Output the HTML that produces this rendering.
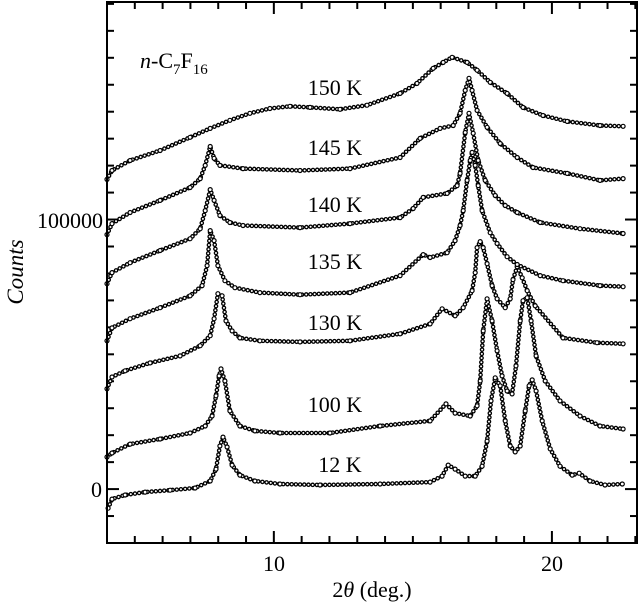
<!DOCTYPE html>
<html><head><meta charset="utf-8">
<style>
html,body{margin:0;padding:0;background:#fff;}
svg{display:block;}
text{font-family:"Liberation Serif",serif;fill:#000;}
</style></head>
<body>
<svg id="chart" width="640" height="604" viewBox="0 0 640 604" xmlns="http://www.w3.org/2000/svg">
<g id="ticks"></g>
<g id="curves"></g>
<rect x="107" y="2" width="530" height="541" fill="none" stroke="#000" stroke-width="2"/>
<text x="274" y="571" font-size="22" text-anchor="middle">10</text>
<text x="552" y="571" font-size="22" text-anchor="middle">20</text>
<text x="372" y="597" font-size="22" text-anchor="middle">2<tspan font-style="italic">θ</tspan> (deg.)</text>
<text x="102" y="497" font-size="22" text-anchor="end">0</text>
<text x="103" y="228" font-size="22" text-anchor="end">100000</text>
<text transform="translate(23,272) rotate(-90)" font-size="23" font-style="italic" text-anchor="middle">Counts</text>
<text x="140" y="68" font-size="22"><tspan font-style="italic">n</tspan>-C<tspan font-size="15" dy="6">7</tspan><tspan dy="-6">F</tspan><tspan font-size="15" dy="6">16</tspan></text>
<text x="335" y="95" font-size="22" text-anchor="middle">150 K</text>
<text x="335" y="155" font-size="22" text-anchor="middle">145 K</text>
<text x="335" y="212" font-size="22" text-anchor="middle">140 K</text>
<text x="335" y="269" font-size="22" text-anchor="middle">135 K</text>
<text x="335" y="330" font-size="22" text-anchor="middle">130 K</text>
<text x="335" y="412" font-size="22" text-anchor="middle">100 K</text>
<text x="340" y="472" font-size="22" text-anchor="middle">12 K</text>
</svg>
<script>
const x12 = [4.04,4.18,4.65,5.37,6.27,7.17,7.71,7.92,8.06,8.17,8.32,8.50,8.78,9.32,10.22,11.66,13.82,15.62,16.05,16.27,16.52,16.88,17.24,17.49,17.67,17.81,17.96,18.14,18.32,18.50,18.68,18.86,19.04,19.18,19.29,19.43,19.65,19.94,20.29,20.73,20.98,21.37,21.91,22.53];
const y12 = [-7100,-3700,-2200,-1100,-400,400,3000,7400,16000,19300,15600,8900,5200,3000,1900,1500,1900,2600,4800,8900,7400,4800,4800,8500,17800,32700,41300,38300,25300,16000,13800,16000,29000,38300,40500,36400,25300,14900,8500,5200,5900,3000,1500,1900];
const x100 = [4.0,4.18,4.83,5.91,6.99,7.53,7.78,7.92,8.03,8.10,8.24,8.42,8.78,9.32,10.22,12.02,13.82,15.62,16.19,16.52,17.06,17.31,17.42,17.53,17.67,17.85,18.03,18.21,18.39,18.57,18.71,18.86,18.96,19.11,19.25,19.43,19.76,20.29,21.01,21.73,22.56];
const y100 = [11900,13400,16700,18600,20800,23400,27100,34600,42000,44600,40100,29000,23400,21600,20800,20800,23400,25300,31600,28200,27100,30900,40100,58700,70600,62400,51300,42000,36400,35300,45700,62400,69900,71000,62400,49400,40100,32700,27100,23400,22300];
const x130 = [4.0,4.18,4.65,5.55,6.63,7.35,7.71,7.85,7.99,8.14,8.28,8.50,8.78,9.50,10.94,12.74,14.54,15.62,16.05,16.52,16.81,17.13,17.24,17.31,17.42,17.53,17.67,17.85,18.03,18.32,18.50,18.60,18.75,18.93,19.11,19.40,20.40,21.62,22.56];
const y130 = [37200,41600,43900,46800,49400,53200,56900,63200,72500,71700,62400,58700,56100,55000,54600,55000,57600,61300,66900,64300,67300,73600,80300,89600,91800,89600,83600,75500,70600,67300,70600,77700,82500,78400,73600,68000,56100,54300,53900];
const x135 = [4.0,4.18,4.83,5.91,6.99,7.42,7.60,7.71,7.85,7.99,8.24,8.60,9.50,10.94,12.74,14.54,15.37,15.62,16.23,16.52,16.70,16.81,16.95,17.06,17.13,17.24,17.35,17.49,17.78,18.03,18.39,18.75,19.58,20.40,21.73,22.56];
const y135 = [55000,59800,63200,67300,71700,75500,82900,95900,92200,82900,77300,74700,72900,72100,72900,79200,87000,85900,87700,92200,97800,103300,114500,121900,124900,120100,112600,103300,95100,91100,86200,83300,79200,77300,75500,75100];
const x140 = [4.0,4.18,4.83,5.91,6.99,7.35,7.53,7.71,7.85,8.06,8.42,8.89,10.94,12.74,14.54,15.01,15.37,16.23,16.59,16.70,16.88,17.02,17.17,17.35,17.60,17.96,18.32,18.75,19.58,21.01,22.56];
const y140 = [76200,80300,84000,88500,92900,96600,103300,111100,107100,101500,98900,97800,97000,98500,100700,104100,108200,109700,112600,117100,132300,139400,132000,121900,114500,108900,105200,102600,98900,96600,94800];
const x145 = [4.0,4.18,4.83,5.91,6.99,7.35,7.53,7.71,7.85,8.06,8.89,10.94,12.74,14.54,15.26,15.98,16.45,16.70,16.88,17.02,17.13,17.31,17.67,18.14,18.75,19.32,20.55,21.73,22.56];
const y145 = [94400,98500,102600,107100,111900,115200,120100,127100,122700,120100,118900,118200,118900,123000,130100,133800,134900,139400,147900,152400,147900,140500,134200,128200,123000,119300,117100,114500,115200];
const x150 = [4.0,4.18,4.83,5.91,6.99,7.71,8.42,9.14,9.86,10.58,11.30,12.38,13.35,14.54,15.15,15.73,16.09,16.41,16.95,17.31,17.78,18.39,18.96,19.68,20.55,21.73,22.56];
const y150 = [114900,118200,121900,125600,130500,133800,136800,139400,141200,142000,141600,140900,142400,146800,150500,156100,158300,160200,158300,155400,150900,146800,141600,138600,136400,134900,134600];
const seriesNames = ['12k','100k','130k','135k','140k','145k','150k'];
const xTickValues = [5,6,7,8,9,10,11,12,13,14,15,16,17,18,19,20,21,22,23];
const yTickValues = [-10000,0,10000,20000,30000,40000,50000,60000,70000,80000,90000,100000,110000,120000,130000,140000,150000,160000,170000,180000];

const X0=107, X1=637, Y0=543, Y1=2;
const XMIN=4, XMAX=23.06, YMIN=-20000, YMAX=180700;
function sx(v){return X0+(v-XMIN)/(XMAX-XMIN)*(X1-X0);}
function sy(v){return Y0-(v-YMIN)/(YMAX-YMIN)*(Y0-Y1);}
const NS='http://www.w3.org/2000/svg';
const tg=document.getElementById('ticks');
function line(x1,y1,x2,y2,name){
  const l=document.createElementNS(NS,'line');
  l.setAttribute('x1',x1);l.setAttribute('y1',y1);l.setAttribute('x2',x2);l.setAttribute('y2',y2);
  l.setAttribute('stroke','#000');l.setAttribute('stroke-width','2');
  
  
  tg.appendChild(l);
}
xTickValues.forEach(v=>{
  const px=sx(v); const len=(v%10===0)?12:7;
  line(px,Y0,px,Y0-len,'x-tick-bottom');
  line(px,Y1,px,Y1+len,'x-tick-top');
});
yTickValues.forEach(v=>{
  const py=sy(v); const len=(v%100000===0)?12:7;
  line(X0,py,X0+len,py,'y-tick-left');
  line(X1,py,X1-len,py,'y-tick-right');
});
const cg=document.getElementById('curves');
const allX=[x12,x100,x130,x135,x140,x145,x150];
const allY=[y12,y100,y130,y135,y140,y145,y150];
function mkPoly(pts,w,col,dash,name){
  const p=document.createElementNS(NS,'polyline');
  p.setAttribute('points',pts);
  p.setAttribute('fill','none');p.setAttribute('stroke',col);p.setAttribute('stroke-width',w);
  p.setAttribute('stroke-linejoin','round');
  if(dash){p.setAttribute('stroke-dasharray',dash);p.setAttribute('stroke-linecap','round');}
  
  
  return p;
}
allX.forEach((xs,i)=>{
  const ys=allY[i];
  const g=document.createElementNS(NS,'g');
  
  
  const pts=xs.map((x,j)=>sx(x).toFixed(1)+','+sy(ys[j]).toFixed(1)).join(' ');
  g.appendChild(mkPoly(pts,'1.6','#000',null,'curve-line'));
  g.appendChild(mkPoly(pts,'4.6','#000','0 4.2','curve-marker-texture'));
  g.appendChild(mkPoly(pts,'2','#fff','0 4.2','curve-marker-fill'));
  xs.forEach((x,j)=>{
    const c=document.createElementNS(NS,'circle');
    c.setAttribute('cx',sx(x).toFixed(1));c.setAttribute('cy',sy(ys[j]).toFixed(1));
    c.setAttribute('r','2');c.setAttribute('fill','#fff');c.setAttribute('stroke','#000');c.setAttribute('stroke-width','1.2');
    
    
    g.appendChild(c);
  });
  cg.appendChild(g);
});
</script>
</body></html>
